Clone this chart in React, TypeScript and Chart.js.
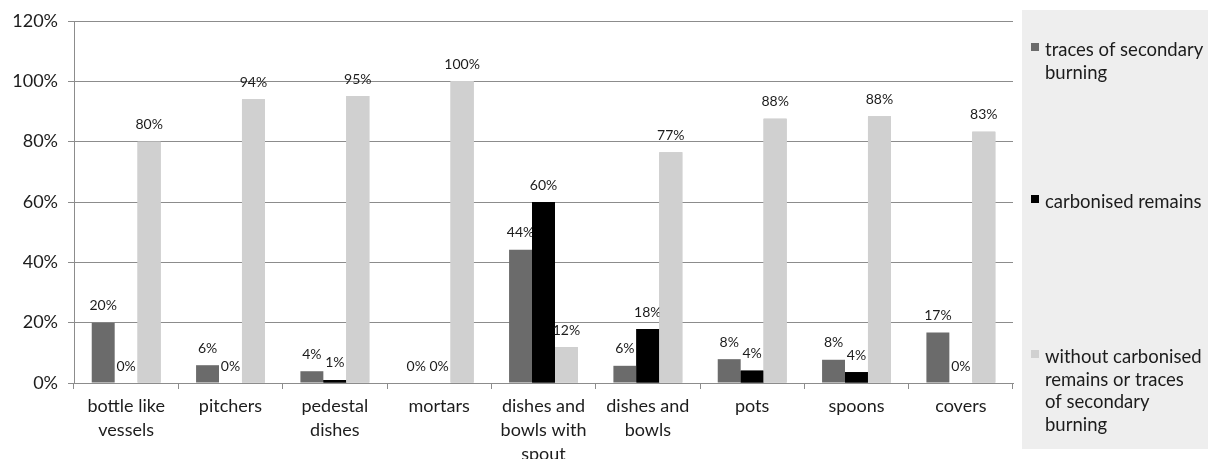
import React, { useEffect, useRef } from 'react';
import { Chart, registerables } from 'chart.js';

Chart.register(...registerables);

// ---------- data ----------
const categories: string[][] = [
  ['bottle like', 'vessels'],
  ['pitchers'],
  ['pedestal', 'dishes'],
  ['mortars'],
  ['dishes and', 'bowls with', 'spout'],
  ['dishes and', 'bowls'],
  ['pots'],
  ['spoons'],
  ['covers'],
];
const secondaryBurning = [20, 5.9, 3.9, 0, 44.2, 5.7, 7.9, 7.7, 16.7];
const carbonisedRemains = [0, 0, 1.0, 0, 60, 17.9, 4.1, 3.6, 0];
const withoutTraces = [80, 94.1, 95.1, 100, 11.9, 76.5, 87.6, 88.4, 83.3];

const seriesNames = [
  'traces of secondary burning',
  'carbonised remains',
  'without carbonised remains or traces of secondary burning',
];
const legendLines: string[][] = [
  ['traces of secondary', 'burning'],
  ['carbonised remains'],
  ['without carbonised', 'remains or traces', 'of secondary', 'burning'],
];
const yTicks = [0, 20, 40, 60, 80, 100, 120];

// ---------- styles ----------
const COLORS = ['#6b6b6b', '#000000', '#d0d0d0'];
const GRID = '#8c8c8c';
const TEXT = '#1c1c1c';
const FONT = 'Lato';

const customPlugin = {
  id: 'customDraw',
  beforeDraw(chart: any) {
    const ctx = chart.ctx;
    ctx.save();
    ctx.fillStyle = '#ffffff';
    ctx.fillRect(0, 0, chart.width, chart.height);
    // legend panel
    ctx.fillStyle = '#eeeeee';
    ctx.fillRect(1022, 10, chart.width - 1022, 439);
    ctx.restore();
  },
  afterDatasetsDraw(chart: any) {
    const ctx = chart.ctx;
    const n = chart.data.datasets.length;
    for (let i = 0; i < n; i++) {
      if (i > 0) {
        for (let j = i; j < n; j++) chart.getDatasetMeta(j).controller.draw();
      }
      const meta = chart.getDatasetMeta(i);
      const data = chart.data.datasets[i].data as number[];
      ctx.save();
      ctx.font = `14px ${FONT}`;
      ctx.fillStyle = TEXT;
      ctx.textAlign = 'center';
      ctx.textBaseline = 'middle';
      meta.data.forEach((bar: any, k: number) => {
        ctx.fillText(Math.round(data[k]) + '%', bar.x, bar.y - 17);
      });
      ctx.restore();
    }
  },
  afterDraw(chart: any) {
    const ctx = chart.ctx;
    ctx.save();
    ctx.font = `18.5px ${FONT}`;
    ctx.fillStyle = TEXT;
    ctx.textAlign = 'left';
    ctx.textBaseline = 'alphabetic';
    const baselines = [56, 208, 363];
    const step = 22.7;
    legendLines.forEach((lines, i) => {
      ctx.fillStyle = COLORS[i];
      ctx.fillRect(1031, baselines[i] - 13, 8, 8);
      ctx.fillStyle = TEXT;
      lines.forEach((line, l) => {
        ctx.fillText(line, 1045, baselines[i] + l * step);
      });
    });
    ctx.restore();
  },
};

export default function App() {
  const canvasRef = useRef<HTMLCanvasElement | null>(null);

  useEffect(() => {
    let chart: Chart | null = null;
    let cancelled = false;
    const build = () => {
      if (cancelled || !canvasRef.current) return;
      const datasets = [secondaryBurning, carbonisedRemains, withoutTraces].map((d, i) => ({
        label: seriesNames[i],
        data: d,
        backgroundColor: COLORS[i],
        borderWidth: 0,
        categoryPercentage: 0.66,
        barPercentage: 1,
      }));
      chart = new Chart(canvasRef.current, {
        type: 'bar',
        data: { labels: categories, datasets },
        options: {
          responsive: false,
          animation: false,
          devicePixelRatio: 1,
          layout: { padding: { left: 0, right: 195, top: 21, bottom: 0 } },
          plugins: { legend: { display: false }, tooltip: { enabled: false } },
          scales: {
            x: {
              offset: true,
              grid: {
                display: true,
                drawOnChartArea: false,
                drawTicks: true,
                tickLength: 6,
                color: GRID,
                offset: true,
              },
              border: { display: true, color: GRID },
              ticks: {
                color: TEXT,
                font: { family: FONT, size: 18, lineHeight: 1.33 },
                padding: 5,
                maxRotation: 0,
                minRotation: 0,
                autoSkip: false,
              },
              afterFit(scale: any) {
                scale.height = 76;
              },
            },
            y: {
              min: 0,
              max: 120,
              afterBuildTicks(scale: any) {
                scale.ticks = yTicks.map((v) => ({ value: v }));
              },
              grid: { color: GRID, tickLength: 6, drawTicks: true },
              border: { display: true, color: GRID },
              ticks: {
                color: TEXT,
                font: { family: FONT, size: 18 },
                padding: 10,
                callback: (v: any) => v + '%',
              },
              afterFit(scale: any) {
                scale.width = 74;
              },
            },
          },
        },
        plugins: [customPlugin],
      });
    };
    const fontsApi: any = (document as any).fonts;
    if (fontsApi && fontsApi.load) {
      Promise.all([fontsApi.load(`18px ${FONT}`), fontsApi.load(`14px ${FONT}`)])
        .catch(() => {})
        .then(build);
    } else {
      build();
    }
    return () => {
      cancelled = true;
      if (chart) chart.destroy();
    };
  }, []);

  return (
    <div style={{ position: 'absolute', left: 0, top: 0, width: 1208, height: 459 }}>
      <canvas ref={canvasRef} width={1208} height={459} style={{ display: 'block' }} />
    </div>
  );
}
